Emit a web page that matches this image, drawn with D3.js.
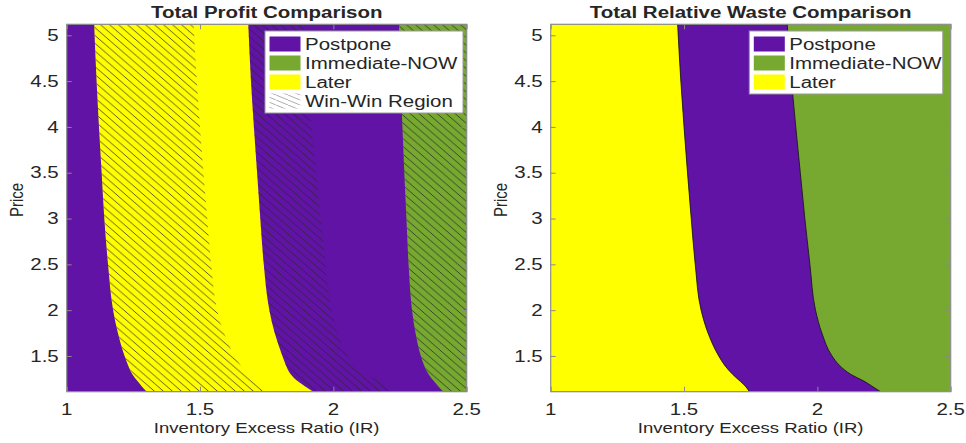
<!DOCTYPE html>
<html>
<head>
<meta charset="utf-8">
<script src="https://cdn.jsdelivr.net/npm/d3@7"></script>
<style>
body { margin: 0; background: #fff; }
text { font-family: "Liberation Sans", Arial, Helvetica, sans-serif; fill: #262626; }
</style>
</head>
<body>
<svg id="chart" width="966" height="443"></svg>
<script>
var prices = [1.11, 1.17, 1.22, 1.3, 1.4, 1.5, 1.75, 2, 2.5, 3, 3.5, 4, 4.5, 5.12];
// profit panel: Postpone | Later | Postpone | Immediate-NOW
var profitLaterStart = [1.300, 1.281, 1.267, 1.246, 1.230, 1.217, 1.192, 1.174, 1.155, 1.141, 1.131, 1.121, 1.112, 1.103];
var profitLaterEnd   = [1.925, 1.893, 1.868, 1.840, 1.822, 1.809, 1.780, 1.760, 1.739, 1.726, 1.714, 1.702, 1.691, 1.681];
var profitNowStart   = [2.412, 2.393, 2.378, 2.357, 2.340, 2.328, 2.308, 2.295, 2.282, 2.274, 2.266, 2.259, 2.252, 2.246];
// waste panel: Later | Postpone | Immediate-NOW
var wasteLaterEnd    = [1.745, 1.730, 1.712, 1.682, 1.652, 1.630, 1.590, 1.564, 1.542, 1.527, 1.513, 1.500, 1.488, 1.476];
var wasteNowStart    = [2.237, 2.205, 2.178, 2.125, 2.082, 2.055, 2.017, 1.993, 1.972, 1.953, 1.936, 1.919, 1.903, 1.887];

var xTicks = [1, 1.5, 2, 2.5];
var yTicks = [1.5, 2, 2.5, 3, 3.5, 4, 4.5, 5];
var profitLegend = ['Postpone', 'Immediate-NOW', 'Later', 'Win-Win Region'];
var wasteLegend = ['Postpone', 'Immediate-NOW', 'Later'];

var PURPLE = '#6113a6', GREEN = '#77a830', YELLOW = '#ffff00';
var legendFill = {'Postpone': PURPLE, 'Immediate-NOW': GREEN, 'Later': YELLOW, 'Win-Win Region': 'url(#hatchKey)'};
var SX = 1.28; // the picture is stretched sideways

var svg = d3.select('#chart');
var defs = svg.append('defs');

var hatch = defs.append('pattern').attr('id', 'hatch')
    .attr('patternUnits', 'userSpaceOnUse').attr('width', 9).attr('height', 7.8);
hatch.append('path')
    .attr('d', 'M0,0L9,7.8M-1.3,6.7L1.3,8.9M7.7,-1.1L10.3,1.1')
    .attr('stroke', '#262626').attr('stroke-width', 0.75);

var key = defs.append('pattern').attr('id', 'hatchKey')
    .attr('patternUnits', 'userSpaceOnUse').attr('width', 12).attr('height', 5);
key.append('rect').attr('width', 12).attr('height', 5).attr('fill', '#fff');
key.append('path').attr('d', 'M0,0L12,5').attr('stroke', '#999').attr('stroke-width', 0.8);

function txt(g, x, y, s, o) {
    o = o || {};
    var t = g.append('text')
        .attr('transform', 'translate(' + x + ',' + y + ') scale(' + SX + ',1)' + (o.rot ? ' rotate(' + o.rot + ')' : ''))
        .attr('text-anchor', o.anchor || 'start')
        .style('font-size', (o.size || 16) + 'px')
        .text(s);
    if (o.bold) t.style('font-weight', 'bold');
    if (o.mid) t.attr('dy', '0.35em');
    return t;
}

function at(v, i) { return typeof v === 'number' ? v : v[i]; }

function panel(left, title, id) {
    var x = d3.scaleLinear().domain([1, 2.5]).range([left, left + 400]);
    var y = d3.scaleLinear().domain([1.11, 5.12]).range([391.7, 24.3]);
    var g = svg.append('g');
    defs.append('clipPath').attr('id', id).append('rect')
        .attr('x', x(1)).attr('y', y(5.12)).attr('width', x(2.5) - x(1)).attr('height', y(1.11) - y(5.12));
    var plot = g.append('g').attr('clip-path', 'url(#' + id + ')');
    var band = function (lo, hi) {
        return d3.area().curve(d3.curveMonotoneY)
            .y(function (d) { return y(d); })
            .x0(function (d, i) { return x(at(lo, i)); })
            .x1(function (d, i) { return x(at(hi, i)); })(prices);
    };
    var edge = function (b) {
        return d3.line().curve(d3.curveMonotoneY)
            .y(function (d) { return y(d); })
            .x(function (d, i) { return x(b[i]); })(prices);
    };
    return {x: x, y: y, g: g, plot: plot, band: band, edge: edge, title: title};
}

function frame(p) {
    var g = p.g;
    var ax = [
        d3.axisBottom(p.x).tickValues(xTicks), d3.axisTop(p.x).tickValues(xTicks),
        d3.axisLeft(p.y).tickValues(yTicks), d3.axisRight(p.y).tickValues(yTicks)
    ];
    var pos = ['translate(0,' + p.y(1.11) + ')', 'translate(0,' + p.y(5.12) + ')',
               'translate(' + p.x(1) + ',0)', 'translate(' + p.x(2.5) + ',0)'];
    ax.forEach(function (a, i) {
        var s = g.append('g').attr('transform', pos[i])
            .call(a.tickSizeInner(-5).tickSizeOuter(0).tickFormat(''));
        s.select('.domain').remove();
        s.selectAll('line').attr('stroke', '#8c8c8c');
    });
    g.append('rect')
        .attr('x', p.x(1)).attr('y', p.y(5.12))
        .attr('width', p.x(2.5) - p.x(1)).attr('height', p.y(1.11) - p.y(5.12))
        .attr('fill', 'none').attr('stroke', '#8c8c8c').attr('stroke-width', 1.2);
    xTicks.forEach(function (d) { txt(g, p.x(d), 415, String(d), {anchor: 'middle', size: 16}); });
    yTicks.forEach(function (d) { txt(g, p.x(1) - 8, p.y(d), String(d), {anchor: 'end', size: 16, mid: true}); });
    txt(g, (p.x(1) + p.x(2.5)) / 2, 18.3, p.title, {anchor: 'middle', size: 16, bold: true});
    txt(g, (p.x(1) + p.x(2.5)) / 2, 432.7, 'Inventory Excess Ratio (IR)', {anchor: 'middle', size: 14.5});
    txt(g, p.x(1) - 43.5, 200, 'Price', {anchor: 'middle', size: 15, rot: -90});
}

function legend(p, names, lx, ly, w) {
    var g = p.g.append('g');
    g.append('rect').attr('x', lx).attr('y', ly).attr('width', w).attr('height', 6 + names.length * 19)
        .attr('fill', '#fff').attr('stroke', '#9a9a9a').attr('stroke-width', 1);
    names.forEach(function (n, i) {
        var cy = ly + 13 + i * 19;
        g.append('rect').attr('x', lx + 4.5).attr('y', cy - 7.5).attr('width', 31).attr('height', 15)
            .attr('fill', legendFill[n]);
        txt(g, lx + 40, cy, n, {size: 16, mid: true});
    });
}

// ---- left: total profit ----
var pl = panel(66.7, 'Total Profit Comparison', 'clipL');
pl.plot.append('rect').attr('x', pl.x(1)).attr('y', 0).attr('width', 400).attr('height', 443).attr('fill', PURPLE);
pl.plot.append('path').attr('d', pl.band(profitLaterStart, profitLaterEnd)).attr('fill', YELLOW);
pl.plot.append('path').attr('d', pl.band(profitNowStart, 2.6)).attr('fill', GREEN);
// win-win: same choice in both panels
pl.plot.append('path').attr('d', pl.band(profitLaterStart, wasteLaterEnd)).attr('fill', 'url(#hatch)');
pl.plot.append('path').attr('d', pl.band(profitLaterEnd, wasteNowStart)).attr('fill', 'url(#hatch)');
pl.plot.append('path').attr('d', pl.band(profitNowStart, 2.6)).attr('fill', 'url(#hatch)');
frame(pl);
legend(pl, profitLegend, 265, 31, 198);

// ---- right: total relative waste ----
var pr = panel(550.7, 'Total Relative Waste Comparison', 'clipR');
pr.plot.append('rect').attr('x', pr.x(1)).attr('y', 0).attr('width', 400).attr('height', 443).attr('fill', GREEN);
pr.plot.append('path').attr('d', pr.band(0.9, wasteLaterEnd)).attr('fill', YELLOW);
pr.plot.append('path').attr('d', pr.band(wasteLaterEnd, wasteNowStart)).attr('fill', PURPLE);
[wasteLaterEnd, wasteNowStart].forEach(function (b) {
    pr.plot.append('path').attr('d', pr.edge(b)).attr('fill', 'none').attr('stroke', '#111').attr('stroke-width', 0.8);
});
frame(pr);
legend(pr, wasteLegend, 749.3, 31, 193.5);
</script>
</body>
</html>
